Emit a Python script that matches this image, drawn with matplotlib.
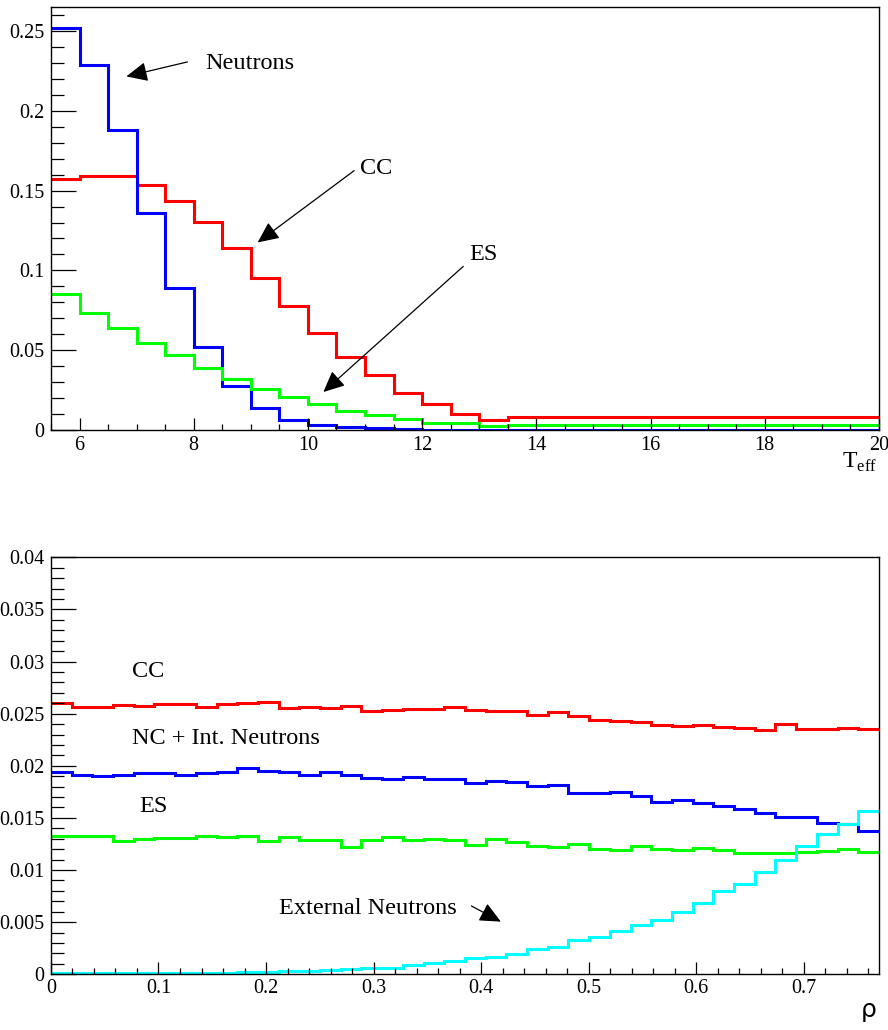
import numpy as np
import matplotlib
matplotlib.use("Agg")
import matplotlib.pyplot as plt
from matplotlib.ticker import MultipleLocator, FormatStrFormatter

plt.rcParams['font.family'] = ['Liberation Serif', 'DejaVu Serif']
plt.rcParams['mathtext.fontset'] = 'custom'
plt.rcParams['mathtext.rm'] = 'Liberation Serif'

# ---- top panel: T_eff spectra (bins of 0.5 up to 13.5, then one wide bin to 20)
teff_edges = [5.5, 6.0, 6.5, 7.0, 7.5, 8.0, 8.5, 9.0, 9.5, 10.0, 10.5,
              11.0, 11.5, 12.0, 12.5, 13.0, 13.5, 20.0]
teff_neutrons = [0.2517, 0.2288, 0.1881, 0.1360, 0.0892, 0.0517, 0.0275, 0.0135,
                 0.0064, 0.0030, 0.0019, 0.0012, 0.0006, 0.0003, 0.0002, 0.0001, 0.0001]
teff_cc = [0.1573, 0.1594, 0.1594, 0.1535, 0.1433, 0.1304, 0.1142, 0.0950,
           0.0779, 0.0610, 0.0460, 0.0345, 0.0232, 0.0160, 0.0100, 0.0063, 0.0083]
teff_es = [0.0854, 0.0735, 0.0642, 0.0548, 0.0471, 0.0390, 0.0319, 0.0256,
           0.0204, 0.0162, 0.0120, 0.0093, 0.0066, 0.0047, 0.0042, 0.0023, 0.0033]

# ---- bottom panel: rho distributions, 40 bins on [0, 0.77]
rho_lo, rho_hi, rho_nbins = 0.0, 0.77, 40
rho_cc = [0.0260, 0.0256, 0.0256, 0.0258, 0.0257, 0.0259, 0.0259, 0.0256, 0.0259, 0.0260,
          0.0261, 0.0255, 0.02566, 0.02556, 0.02572, 0.02528, 0.02538, 0.02547, 0.02547, 0.0256,
          0.02531, 0.02522, 0.02528, 0.02488, 0.02516, 0.02475, 0.02438, 0.02431, 0.02416, 0.02391,
          0.02378, 0.02388, 0.02375, 0.02363, 0.02344, 0.0240, 0.02353, 0.02353, 0.02366, 0.02356]
rho_nc = [0.01941, 0.0191, 0.01903, 0.01913, 0.01928, 0.01928, 0.01916, 0.01928, 0.01941, 0.01978,
          0.01947, 0.01938, 0.01916, 0.01938, 0.01916, 0.01884, 0.01869, 0.01897, 0.01875, 0.01875,
          0.01831, 0.01859, 0.01844, 0.01806, 0.01816, 0.01738, 0.01738, 0.01744, 0.01709, 0.0165,
          0.01672, 0.01641, 0.01613, 0.01588, 0.01547, 0.01513, 0.01506, 0.01456, 0.0144, 0.01378]
rho_es = [0.01325, 0.01331, 0.01325, 0.01281, 0.01297, 0.01309, 0.01303, 0.01331, 0.01319, 0.01328,
          0.01275, 0.01319, 0.01284, 0.01284, 0.01225, 0.01284, 0.01316, 0.01284, 0.013, 0.01288,
          0.01244, 0.01294, 0.01272, 0.01234, 0.01222, 0.01253, 0.01203, 0.01197, 0.01234, 0.012,
          0.01188, 0.01212, 0.01197, 0.01159, 0.01163, 0.01166, 0.01175, 0.01181, 0.012, 0.01175]
rho_ext = [0.00008, 0.00008, 0.00008, 0.00009, 0.00009, 0.0001, 0.00011, 0.00012, 0.00014, 0.00018,
           0.0002, 0.00028, 0.00032, 0.00038, 0.00048, 0.00058, 0.00064, 0.00092, 0.0011, 0.0013,
           0.00154, 0.00161, 0.00195, 0.00246, 0.00261, 0.00331, 0.00353, 0.00416, 0.00473, 0.0052,
           0.00595, 0.00687, 0.008, 0.00863, 0.0098, 0.01093, 0.01232, 0.01348, 0.01443, 0.01566]

RED, BLUE, GREEN, CYAN = '#ff0000', '#0000ff', '#00ff00', '#00ffff'
LW = 2.2


def root_axes(ax, xmajor, xminor, ymajor, yminor, xlen, ylen, xpad):
    # ROOT look: ticks inside, only on left and bottom
    for s in ax.spines.values():
        s.set_linewidth(1.0)
    ax.xaxis.set_major_locator(MultipleLocator(xmajor))
    ax.xaxis.set_minor_locator(MultipleLocator(xminor))
    ax.yaxis.set_major_locator(MultipleLocator(ymajor))
    ax.yaxis.set_minor_locator(MultipleLocator(yminor))
    ax.xaxis.set_major_formatter(FormatStrFormatter('%g'))
    ax.yaxis.set_major_formatter(FormatStrFormatter('%g'))
    ax.tick_params(which='both', direction='in', top=False, right=False,
                   labelsize=14.5, width=0.9)
    ax.tick_params(axis='y', which='major', length=ylen, pad=5)
    ax.tick_params(axis='y', which='minor', length=ylen / 2)
    ax.tick_params(axis='x', which='major', length=xlen, pad=xpad)
    ax.tick_params(axis='x', which='minor', length=xlen / 2)


def arrow(ax, start, tip):
    ax.annotate('', xy=tip, xytext=start,
                arrowprops=dict(arrowstyle='-|>,head_length=13,head_width=6',
                                mutation_scale=1, color='black', lw=0.9,
                                shrinkA=0, shrinkB=0))


fig = plt.figure(figsize=(8.88, 10.3), dpi=100)

# ---------------- top panel
ax1 = fig.add_axes([0.0574, 0.5825, 0.9324, 0.4107])
ax1.stairs(teff_cc, teff_edges, color=RED, lw=LW, baseline=None)
ax1.stairs(teff_neutrons, teff_edges, color=BLUE, lw=LW, baseline=None)
ax1.stairs(teff_es, teff_edges, color=GREEN, lw=LW, baseline=None)
ax1.set_xlim(5.5, 20)
ax1.set_ylim(0, 0.265)
root_axes(ax1, 2, 0.5, 0.05, 0.01, 9, 18, 4)

ax1.text(8.2, 0.2295, 'Neutrons', fontsize=17.5, va='center')
arrow(ax1, (7.89, 0.2306), (6.82, 0.2215))
ax1.text(10.91, 0.164, 'CC', fontsize=17.5, va='center')
arrow(ax1, (10.81, 0.1625), (9.12, 0.1175))
ax1.text(12.83, 0.110, 'ES', fontsize=17.5, va='center')
arrow(ax1, (12.72, 0.1025), (10.27, 0.0238))
ax1.text(0.998, -0.09, r'T$_{\rm eff}$', transform=ax1.transAxes,
         fontsize=17, ha='right', va='baseline')

# ---------------- bottom panel
rho_edges = np.linspace(rho_lo, rho_hi, rho_nbins + 1)
ax2 = fig.add_axes([0.0574, 0.0541, 0.9324, 0.4048])
ax2.stairs(rho_cc, rho_edges, color=RED, lw=LW, baseline=None)
ax2.stairs(rho_nc, rho_edges, color=BLUE, lw=LW, baseline=None)
ax2.stairs(rho_es, rho_edges, color=GREEN, lw=LW, baseline=None)
ax2.stairs(rho_ext, rho_edges, color=CYAN, lw=LW, baseline=None)
ax2.set_xlim(rho_lo, rho_hi)
ax2.set_ylim(0, 0.04)
root_axes(ax2, 0.1, 0.02, 0.005, 0.001, 9, 18, 3.5)

ax2.text(0.0756, 0.0290, 'CC', fontsize=17.5, va='center')
ax2.text(0.0756, 0.0226, 'NC + Int. Neutrons', fontsize=17.5, va='center')
ax2.text(0.0824, 0.0161, 'ES', fontsize=17.5, va='center')
ax2.text(0.2124, 0.00633, 'External Neutrons', fontsize=17.5, va='center')
arrow(ax2, (0.391, 0.00655), (0.4184, 0.00505))
ax2.text(0.997, -0.086, 'ρ', transform=ax2.transAxes, fontsize=18,
         ha='right', va='center', family=['DejaVu Sans'])

fig.savefig('out.png', dpi=100)
